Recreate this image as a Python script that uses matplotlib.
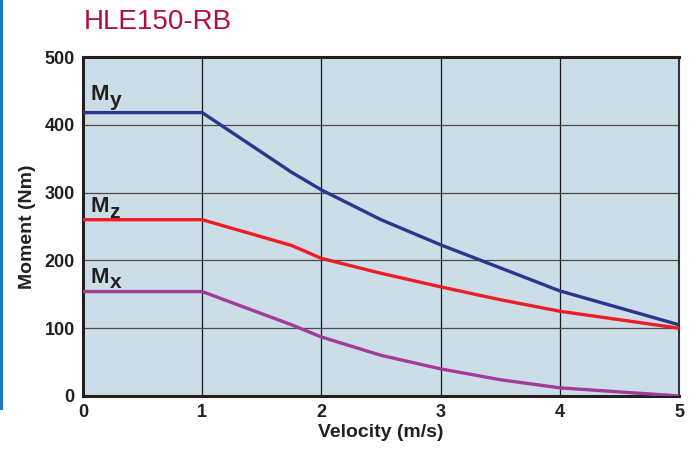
import matplotlib.pyplot as plt
from matplotlib.patches import Rectangle

plt.rcParams['font.family'] = ['Liberation Sans', 'DejaVu Sans']

velocity = [0, 1, 1.75, 2, 2.5, 3, 3.5, 4, 5]
my = [418, 418, 330, 304, 260, 223, 189, 155, 105]
mz = [260, 260, 222, 203, 181, 161, 142, 125, 100]
mx = [154, 154, 105, 87, 60, 40, 24, 12, 0]

fig = plt.figure(figsize=(6.99, 4.51), dpi=100)
ax = fig.add_axes([0.1187, 0.122, 0.8527, 0.7516])
ax.set_facecolor('#cbdde6')

ax.plot(velocity, my, color='#2b3590', lw=2.4, zorder=3, solid_capstyle='butt')
ax.plot(velocity, mz, color='#ee1c25', lw=2.4, zorder=3, solid_capstyle='butt')
ax.plot(velocity, mx, color='#a23a9a', lw=2.4, zorder=3, solid_capstyle='butt')

# curve names: bold M with a large subscript
for sub, yb in [('y', 436), ('z', 271), ('x', 167)]:
    ax.text(0.06, yb, 'M', fontsize=16, fontweight='bold', color='#231f20')
    ax.annotate(sub, xy=(0.06, yb), xytext=(14, -4), textcoords='offset points',
                fontsize=15, fontweight='bold', color='#231f20')

ax.set_xlim(0, 5)
ax.set_ylim(0, 500)
ax.set_xticks(range(0, 6))
ax.set_yticks(range(0, 501, 100))
for x in range(1, 5):
    ax.axvline(x, color='#1a1a1a', lw=0.9, zorder=1)
for y in range(100, 500, 100):
    ax.axhline(y, color='#4d4d4d', lw=0.9, zorder=1)

ax.tick_params(length=0, labelsize=13, pad=6, colors='#231f20')
for lab in ax.get_xticklabels() + ax.get_yticklabels():
    lab.set_fontweight('bold')

for side in ['left', 'bottom', 'top']:
    ax.spines[side].set_linewidth(2.2)
    ax.spines[side].set_color('#231f20')
ax.spines['right'].set_linewidth(1.5)
ax.spines['right'].set_color('#333333')

ax.set_xlabel('Velocity (m/s)', fontsize=14, fontweight='bold', color='#231f20', labelpad=2)
ax.set_ylabel('Moment (Nm)', fontsize=14, fontweight='bold', color='#231f20', labelpad=6)

fig.text(84 / 699, 1 - 22 / 451, 'HLE150-RB', fontsize=20, color='#b0103a',
         va='center', ha='left')

fig.add_artist(Rectangle((0, 1 - 410 / 451), 3 / 699, 410 / 451,
                         transform=fig.transFigure, color='#1a7ac8', lw=0))

fig.savefig('out.png', dpi=100)
